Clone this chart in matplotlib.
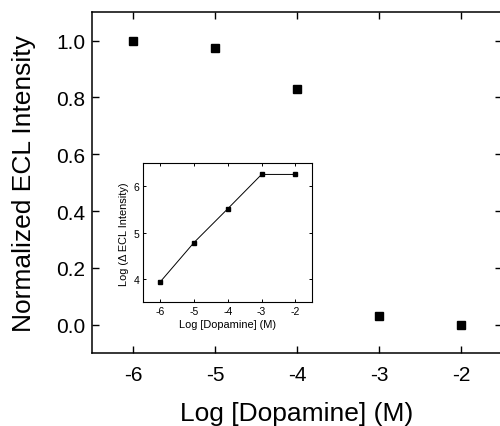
import matplotlib
matplotlib.use("Agg")
from matplotlib import pyplot as plt

plt.rcParams['font.family'] = ['Liberation Sans', 'DejaVu Sans']

# main plot data
log_conc = [-6, -5, -4, -3, -2]
norm_ecl = [1.0, 0.973, 0.828, 0.031, 0.0]

# inset data
inset_conc = [-6, -5, -4, -3, -2]
inset_log_decl = [3.94, 4.79, 5.52, 6.26, 6.26]

fig = plt.figure(figsize=(5.0, 4.27), dpi=100)

ax = fig.add_axes([0.184, 0.171, 0.820, 0.798])
ax.plot(log_conc, norm_ecl, 's', color='black', markersize=6.3, linestyle='none')
ax.set_xlim(-6.5, -1.5)
ax.set_ylim(-0.1, 1.1)
ax.set_xticks([-6, -5, -4, -3, -2])
ax.set_xticklabels(['-6', '-5', '-4', '-3', '-2'])
ax.set_yticks([0.0, 0.2, 0.4, 0.6, 0.8, 1.0])
ax.set_yticklabels(['0.0', '0.2', '0.4', '0.6', '0.8', '1.0'])
ax.tick_params(direction='in', length=5, width=1.0, labelsize=15,
               top=True, right=True, pad=5)
ax.tick_params(axis='x', pad=9)
for s in ax.spines.values():
    s.set_linewidth(1.1)
ax.set_xlabel('Log [Dopamine] (M)', fontsize=19, labelpad=12)
ax.set_ylabel('Normalized ECL Intensity', fontsize=19, labelpad=14)

# inset
ins = fig.add_axes([0.2866, 0.2897, 0.338, 0.3255])
ins.plot(inset_conc, inset_log_decl, 's-', color='black', markersize=3.5,
         linewidth=0.7)
ins.set_xlim(-6.5, -1.5)
ins.set_ylim(3.5, 6.5)
ins.set_xticks([-6, -5, -4, -3, -2])
ins.set_xticklabels(['-6', '-5', '-4', '-3', '-2'])
ins.set_yticks([4, 5, 6])
ins.tick_params(direction='in', length=2.5, width=0.7, labelsize=7.5,
                top=True, right=True, pad=3)
for s in ins.spines.values():
    s.set_linewidth(0.8)
ins.set_xlabel('Log [Dopamine] (M)', fontsize=7.9, labelpad=2)
ins.set_ylabel('Log (\u0394 ECL Intensity)', fontsize=7.9, labelpad=3)

fig.savefig('out.png', dpi=100)
